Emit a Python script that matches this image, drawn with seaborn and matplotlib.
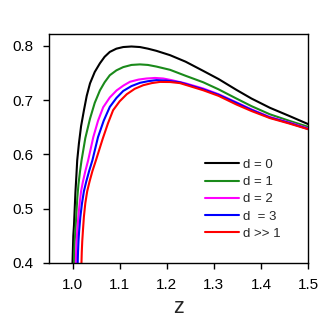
import matplotlib
matplotlib.use('Agg')
import matplotlib.pyplot as plt
import pandas as pd
import seaborn as sns

labels = ['d = 0', 'd = 1', 'd = 2', 'd  = 3', 'd >> 1']
colors = ['#000000', '#1a8a1a', '#ff00ff', '#0000ff', '#ff0000']

# values
z_d0 = [0.9995, 1.0005, 1.0015, 1.003, 1.0045, 1.006, 1.008, 1.0098, 1.0134, 1.018, 1.024, 1.03, 1.037,
        1.047, 1.058, 1.068, 1.079, 1.093, 1.1075, 1.125, 1.143, 1.16, 1.178, 1.207, 1.24, 1.2775, 1.31,
        1.348, 1.38, 1.419, 1.46, 1.5]
v_d0 = [0.39, 0.42, 0.45, 0.47, 0.50, 0.53, 0.56, 0.589, 0.62, 0.652, 0.681, 0.708, 0.731,
        0.752, 0.768, 0.780, 0.789, 0.795, 0.798, 0.799, 0.798, 0.795, 0.791, 0.783, 0.771, 0.754, 0.739,
        0.719, 0.703, 0.686, 0.671, 0.656]

z_d1 = [1.0025, 1.0035, 1.0045, 1.006, 1.008, 1.01, 1.0125, 1.0155, 1.019, 1.027, 1.037, 1.047, 1.058,
        1.068, 1.079, 1.093, 1.1075, 1.125, 1.143, 1.16, 1.178, 1.207, 1.24, 1.2775, 1.31, 1.348, 1.38,
        1.419, 1.46, 1.5]
v_d1 = [0.39, 0.42, 0.44, 0.46, 0.49, 0.52, 0.545, 0.567, 0.589, 0.63, 0.666, 0.695, 0.718,
        0.733, 0.746, 0.755, 0.761, 0.765, 0.766, 0.765, 0.762, 0.756, 0.745, 0.733, 0.720, 0.703, 0.689,
        0.674, 0.662, 0.651]

z_d2 = [1.0065, 1.0075, 1.0085, 1.01, 1.0122, 1.015, 1.018, 1.022, 1.027, 1.033, 1.044, 1.054, 1.065,
        1.079, 1.0935, 1.108, 1.122, 1.14, 1.157, 1.175, 1.1925, 1.21, 1.24, 1.2775, 1.31, 1.348, 1.38,
        1.419, 1.46, 1.5]
v_d2 = [0.39, 0.42, 0.44, 0.46, 0.485, 0.51, 0.532, 0.55, 0.569, 0.589, 0.632, 0.662, 0.687,
        0.705, 0.718, 0.727, 0.734, 0.738, 0.740, 0.741, 0.740, 0.737, 0.731, 0.7215, 0.711, 0.696, 0.683,
        0.669, 0.659, 0.648]

z_d3 = [1.0105, 1.0115, 1.0125, 1.014, 1.0165, 1.02, 1.024, 1.029, 1.035, 1.042, 1.054, 1.066, 1.079,
        1.093, 1.1075, 1.125, 1.143, 1.16, 1.178, 1.2, 1.228, 1.2775, 1.31, 1.348, 1.38, 1.419, 1.46, 1.5]
v_d3 = [0.39, 0.42, 0.44, 0.46, 0.485, 0.51, 0.532, 0.55, 0.569, 0.589, 0.632, 0.662, 0.6876,
        0.704, 0.717, 0.726, 0.732, 0.735, 0.737, 0.736, 0.733, 0.720, 0.710, 0.695, 0.682, 0.668, 0.658,
        0.647]

z_dinf = [1.0185, 1.0195, 1.0205, 1.022, 1.024, 1.027, 1.031, 1.036, 1.042, 1.0495, 1.064, 1.075, 1.086,
          1.1, 1.115, 1.132, 1.15, 1.168, 1.1855, 1.207, 1.228, 1.2775, 1.31, 1.348, 1.38, 1.419, 1.46, 1.5]
v_dinf = [0.39, 0.42, 0.44, 0.46, 0.485, 0.51, 0.532, 0.55, 0.569, 0.589, 0.629, 0.657, 0.6815,
          0.698, 0.711, 0.721, 0.7276, 0.7315, 0.7337, 0.7335, 0.7315, 0.7183, 0.708, 0.692, 0.680, 0.667,
          0.657, 0.6465]

curves = [(z_d0, v_d0), (z_d1, v_d1), (z_d2, v_d2), (z_d3, v_d3), (z_dinf, v_dinf)]

frames = []
for label, (zs, vs) in zip(labels, curves):
    frames.append(pd.DataFrame({'z': zs, 'value': vs, 'curve': label}))
data = pd.concat(frames, ignore_index=True)

sns.set_style('white')
plt.rcParams['font.family'] = ['Liberation Sans', 'DejaVu Sans']

fig = plt.figure(figsize=(3.27, 3.21), dpi=100)
ax = fig.add_axes([0.150, 0.181, 0.792, 0.713])

sns.lineplot(data=data, x='z', y='value', hue='curve', hue_order=labels,
             palette=colors, estimator=None, sort=False, linewidth=1.5, ax=ax)

ax.set_xlim(0.95, 1.5)
ax.set_ylim(0.4, 0.822)
ax.set_xticks([1.0, 1.1, 1.2, 1.3, 1.4, 1.5])
ax.set_yticks([0.4, 0.5, 0.6, 0.7, 0.8])
ax.set_xticklabels(['1.0', '1.1', '1.2', '1.3', '1.4', '1.5'])
ax.set_yticklabels(['0.4', '0.5', '0.6', '0.7', '0.8'])
ax.tick_params(axis='both', which='major', direction='out', length=4, width=1,
               labelsize=11, colors='black', bottom=True, left=True, top=False, right=False, pad=7)
for spine in ax.spines.values():
    spine.set_color('black')
    spine.set_linewidth(1.0)

ax.set_xlabel('z', fontsize=15.5, labelpad=3.6)
ax.set_ylabel('')

ax.legend(title=None, frameon=False, fontsize=9.5, loc='upper left',
          bbox_to_anchor=(0.602, 0.455), borderpad=0, borderaxespad=0,
          handlelength=2.6, handletextpad=0.3, labelspacing=0.38)

fig.savefig('out.png', dpi=100)
plt.close(fig)
